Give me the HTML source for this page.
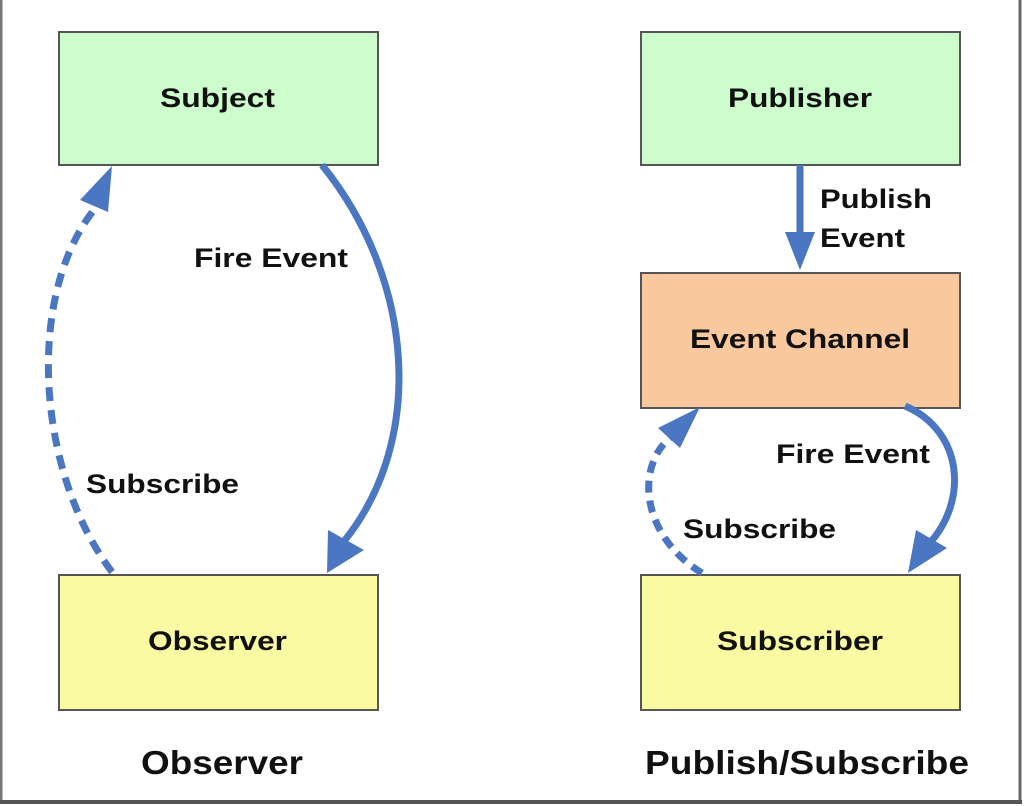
<!DOCTYPE html>
<html><head><meta charset="utf-8"><style>
html,body{margin:0;padding:0;background:#fff;}
svg{display:block;}
text{font-family:"Liberation Sans",Arial,sans-serif;font-weight:bold;}
</style></head><body>
<svg width="1024" height="806" viewBox="0 0 1024 806" xmlns="http://www.w3.org/2000/svg">
<rect x="0" y="0" width="1024" height="806" fill="#fff"/>
<line x1="1" y1="0" x2="1" y2="804" stroke="#777" stroke-width="3"/>
<line x1="1020" y1="0" x2="1020" y2="804" stroke="#666" stroke-width="3"/>
<line x1="0" y1="802" x2="1022" y2="802" stroke="#555" stroke-width="4"/>

<g stroke="#555" stroke-width="2">
<rect x="59" y="32" width="319" height="133" fill="#cdfccd"/>
<rect x="59" y="575" width="319" height="135" fill="#fafaa2"/>
<rect x="641" y="32" width="319" height="133" fill="#cdfccd"/>
<rect x="641" y="273" width="319" height="135" fill="#fac89f"/>
<rect x="641" y="575" width="319" height="135" fill="#fafaa2"/>
</g>

<g font-size="27" fill="#111" lengthAdjust="spacingAndGlyphs">
<text x="160" y="107" textLength="115" lengthAdjust="spacingAndGlyphs">Subject</text>
<text x="148" y="650" textLength="139" lengthAdjust="spacingAndGlyphs">Observer</text>
<text x="728" y="107" textLength="144" lengthAdjust="spacingAndGlyphs">Publisher</text>
<text x="690" y="348" textLength="220" lengthAdjust="spacingAndGlyphs">Event Channel</text>
<text x="717" y="650" textLength="166" lengthAdjust="spacingAndGlyphs">Subscriber</text>
<text x="194" y="267" textLength="154" lengthAdjust="spacingAndGlyphs">Fire Event</text>
<text x="86" y="493" textLength="153" lengthAdjust="spacingAndGlyphs">Subscribe</text>
<text x="820" y="208" textLength="112" lengthAdjust="spacingAndGlyphs">Publish</text>
<text x="820" y="247" textLength="85" lengthAdjust="spacingAndGlyphs">Event</text>
<text x="776" y="463" textLength="154" lengthAdjust="spacingAndGlyphs">Fire Event</text>
<text x="683" y="538" textLength="153" lengthAdjust="spacingAndGlyphs">Subscribe</text>
</g>
<g font-size="33" fill="#111">
<text x="141" y="774" textLength="162" lengthAdjust="spacingAndGlyphs">Observer</text>
<text x="645" y="774" textLength="324" lengthAdjust="spacingAndGlyphs">Publish/Subscribe</text>
</g>

<g fill="none" stroke="#4a76c2" stroke-width="7">
<path d="M322,165 C415,280 425,440 345,540"/>
<path d="M112,572 C35,470 25,290 98,205" stroke-dasharray="14,9"/>
<line x1="800" y1="165" x2="800" y2="236"/>
<path d="M905,406 C962,430 970,500 928,545"/>
<path d="M702,573 C640,535 635,465 672,436" stroke-dasharray="12,8"/>
</g>
<g fill="#4a76c2">
<polygon points="327,573 328,530 364,550"/>
<polygon points="112,166 80,200 108,212"/>
<polygon points="785,232 815,232 800,270"/>
<polygon points="908,573 916,530 947,548"/>
<polygon points="700,407 658,428 680,448"/>
</g>
</svg>
</body></html>
